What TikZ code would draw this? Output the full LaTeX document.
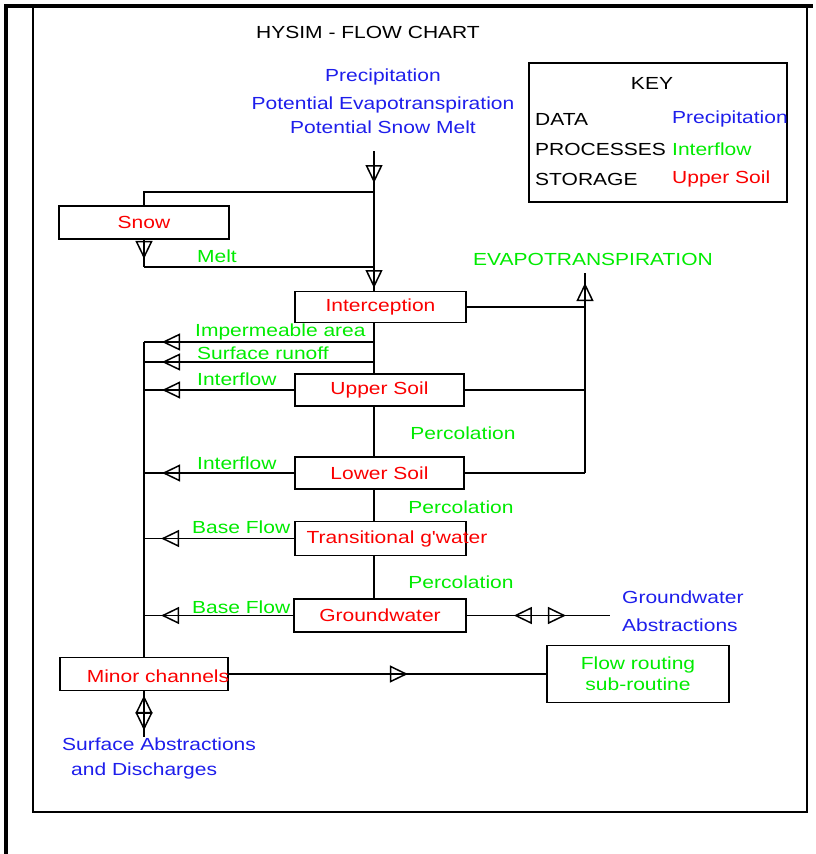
\documentclass[tikz,border=0pt]{standalone}
\usepackage{xcolor}
\usepackage{fontspec}
\setmainfont[FakeStretch=1.2, Ligatures=TeXOff]{Liberation Sans}
\usepackage{tikz}
\usetikzlibrary{positioning,arrows.meta,calc,decorations.markings}
\definecolor{datablue}{RGB}{30,30,235}
\definecolor{procgreen}{RGB}{0,235,0}
\definecolor{storred}{RGB}{250,0,0}
\newcommand{\figfont}{\fontsize{17.5}{21}\selectfont}
\tikzset{
  hollow/.tip   ={Triangle[open, length=18pt, width=17pt, line width=1.5pt]},
  stor/.style   ={draw, rectangle, line width=1.8pt, text=storred, inner sep=0pt, minimum height=32, minimum width=170},
  dat/.style    ={text=datablue, align=left, inner sep=0pt},
  proc/.style   ={text=procgreen, align=center, inner sep=0pt},
  keyt/.style   ={text=black, inner sep=0pt, anchor=west},
  ln/.style     ={line width=1.8pt},
  fwd at/.style ={ln, postaction={decorate}, decoration={markings, mark=at position #1 with {\arrow{hollow}}}},
  two at/.style 2 args={ln, postaction={decorate}, decoration={markings, mark=at position #1 with {\arrowreversed{hollow}}, mark=at position #2 with {\arrow{hollow}}}},
}

\begin{document}
\begin{tikzpicture}[x=1pt, y=-1pt, font=\figfont]
  \useasboundingbox (0,0) rectangle (815,854);
  \draw[line width=3.5pt] (6,854) -- (6,6) -- (813,6);
  \draw[line width=1.6pt] (33,6) -- (33,812) -- (807,812) -- (807,6);

  \node (title) at (368,32) {HYSIM - FLOW CHART};
  \node[dat, align=center] (input) at (383,101) {Precipitation\\[7pt]Potential Evapotranspiration\\[3pt]Potential Snow Melt};

  \node[draw, line width=1.6pt, minimum width=258, minimum height=139] (key) at (658,132.5) {};
  \node (keyhead) at (652,83) {KEY};
  \node[keyt] (kdata) at (535,119) {DATA};
  \node[keyt] (kproc) at (535,149) {PROCESSES};
  \node[keyt] (kstor) at (535,179) {STORAGE};
  \node[keyt, text=datablue]  (kdatav) at (672,119) {Precipitation};
  \node[keyt, text=procgreen] (kprocv) at (672,149) {Interflow};
  \node[keyt, text=storred]   (kstorv) at (672,179) {Upper Soil};

  \node[stor, minimum height=33] (snow) at (144,222.5) {Snow};
  \node[stor, minimum width=171, minimum height=31] (icpt) at (380.5,307) {Interception};
  \node[stor, minimum width=169] (usoil) at (379.5,390) {Upper Soil};
  \node[stor, minimum width=169] (lsoil) at (379.5,473) {Lower Soil};
  \node[stor, minimum width=171, minimum height=34] (tgw) at (380.5,538.5) {};
  \node[text=storred, inner sep=0pt] (tgwlbl) at (397,539) {Transitional g'water};
  \node[stor, minimum width=172, minimum height=33] (gw) at (380,615.5) {Groundwater};
  \node[stor, minimum width=168, minimum height=33] (minor) at (144,674) {};
  \node[text=storred, inner sep=0pt] (minorlbl) at (158,676) {Minor channels};
  \node[stor, text=procgreen, align=center, minimum width=182, minimum height=57] (route) at (638,674) {Flow routing\\sub-routine};

  \node[proc] (evap) at (593,259) {EVAPOTRANSPIRATION};
  \node[proc] (melt) at (217,256) {Melt};
  \node[proc] (perc1) at (463,433) {Percolation};
  \node[proc] (perc2) at (461,507) {Percolation};
  \node[proc] (perc3) at (461,582) {Percolation};
  \node[proc, anchor=west] (imp)   at (195,332) {Impermeable area};
  \node[proc, anchor=west] (sur)   at (197,353) {Surface runoff};
  \node[proc, anchor=west] (ifl1)  at (197,379) {Interflow};
  \node[proc, anchor=west] (ifl2)  at (197,463) {Interflow};
  \node[proc, anchor=west] (base1) at (192,527) {Base Flow};
  \node[proc, anchor=west] (base2) at (192,607) {Base Flow};
  \node[dat, anchor=west] (gwabs) at (622,611) {Groundwater\\[7pt]Abstractions};
  \node[dat, anchor=west] (sabs) at (62,758) {Surface Abstractions\\[4pt]\hspace*{9pt}and Discharges};

  \coordinate (pin)   at (374,151);
  \coordinate (jsnow) at (374,192);
  \coordinate (sbend) at (144,267);
  \coordinate (jmelt) at (374,267);
  \coordinate (evtop) at (585,273);
  \coordinate (jimp)  at (374,342);
  \coordinate (jsur)  at (374,362);
  \coordinate (cimp)  at (144,342);
  \coordinate (csur)  at (144,362);
  \coordinate (gwend) at (610,615.5);
  \coordinate (sdown) at (144,737);

  \draw[fwd at=32pt] (pin) -- (jsnow);
  \draw[ln] (jsnow) -| (snow.north);
  \draw[fwd at=19pt] (snow.south) -- (sbend);
  \draw[ln] (sbend) -- (jmelt);
  \draw[fwd at=96pt] (jsnow) -- (jsnow |- icpt.north);

  \draw[ln] (icpt.east) -- (icpt.east -| evtop);
  \draw[ln] (usoil.east) -- (usoil.east -| evtop);
  \draw[ln] (lsoil.east) -- (lsoil.east -| evtop);
  \draw[fwd at=190pt] (lsoil.east -| evtop) -- (evtop);

  \draw[ln] (jsnow |- icpt.south) -- (jsnow |- usoil.north);
  \draw[ln] (jsnow |- usoil.south) -- (jsnow |- lsoil.north);
  \draw[ln] (jsnow |- lsoil.south) -- (jsnow |- tgw.north);
  \draw[ln] (jsnow |- tgw.south) -- (jsnow |- gw.north);

  \draw[fwd at=212pt] (jimp) -- (cimp);
  \draw[fwd at=212pt] (jsur) -- (csur);
  \draw[fwd at=132pt] (usoil.west) -- (usoil.west -| cimp);
  \draw[fwd at=132pt] (lsoil.west) -- (lsoil.west -| cimp);
  \draw[fwd at=133pt] (tgw.west) -- (tgw.west -| cimp);
  \draw[fwd at=132pt] (gw.west) -- (gw.west -| cimp);
  \draw[ln] (cimp) -- (minor.north);

  \draw[two at={47pt}{99pt}] (gw.east) -- (gwend);
  \draw[fwd at=179pt] (minor.east) -- (route.west);
  \draw[two at={4pt}{39pt}] (minor.south) -- (sdown);
\end{tikzpicture}
\end{document}
